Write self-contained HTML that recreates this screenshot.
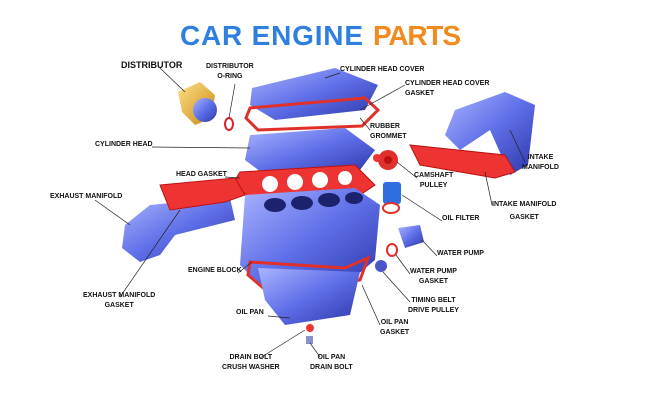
<!DOCTYPE html>
<html><head><meta charset="utf-8"><style>
html,body{margin:0;padding:0;background:#fff;}
.w{position:relative;width:650px;height:400px;overflow:hidden;font-family:"Liberation Sans",sans-serif;}
svg{position:absolute;left:0;top:0;}
.l{position:absolute;font-size:7px;font-weight:bold;color:#111;line-height:10px;white-space:nowrap;}
.c{text-align:center;}
</style></head><body><div class="w">
<svg width="650" height="400" viewBox="0 0 650 400">
<defs>
<linearGradient id="b" x1="0" y1="0" x2="1" y2="1"><stop offset="0" stop-color="#aab4ff"/><stop offset="0.5" stop-color="#5f6fe8"/><stop offset="1" stop-color="#2c36a8"/></linearGradient>
<linearGradient id="o" x1="0" y1="0" x2="1" y2="1"><stop offset="0" stop-color="#ffe08a"/><stop offset="1" stop-color="#c88a10"/></linearGradient>
</defs>
<text x="180" y="45" font-family="Liberation Sans" font-weight="bold" font-size="28" fill="#2e7fe0" textLength="183">CAR ENGINE</text>
<text x="373" y="45" font-family="Liberation Sans" font-weight="bold" font-size="28" fill="#f28a1e" textLength="88">PARTS</text>
<path d="M178 92 L200 82 L215 95 L212 118 L195 125 L182 112 Z" fill="url(#o)"/>
<circle cx="205" cy="110" r="12" fill="url(#b)"/>
<ellipse cx="229" cy="124" rx="4" ry="6" fill="none" stroke="#e0202a" stroke-width="2"/>
<path d="M252 88 L335 68 L378 85 L365 110 L275 120 L250 105 Z" fill="url(#b)"/>
<path d="M250 108 L365 98 L378 110 L362 126 L258 130 L246 118 Z" fill="none" stroke="#e0302a" stroke-width="3"/>
<path d="M250 135 L345 128 L375 150 L360 170 L265 175 L245 160 Z" fill="url(#b)"/>
<path d="M240 172 L355 165 L375 185 L360 195 L255 200 L232 185 Z" fill="#e33" stroke="#b11" stroke-width="1"/>
<g fill="#fff"><circle cx="270" cy="184" r="8"/><circle cx="295" cy="182" r="8"/><circle cx="320" cy="180" r="8"/><circle cx="345" cy="178" r="7"/></g>
<path d="M245 195 L355 188 L380 205 L375 260 L345 285 L265 290 L240 265 Z" fill="url(#b)"/>
<g fill="#1d226e"><ellipse cx="275" cy="205" rx="11" ry="7"/><ellipse cx="302" cy="203" rx="11" ry="7"/><ellipse cx="329" cy="200" rx="11" ry="7"/><ellipse cx="354" cy="198" rx="9" ry="6"/></g>
<path d="M250 262 L345 268 L368 258 L360 280 L268 292 L248 275 Z" fill="none" stroke="#e0302a" stroke-width="3"/>
<path d="M258 268 L360 272 L350 315 L285 325 L265 300 Z" fill="url(#b)"/>
<circle cx="310" cy="328" r="4" fill="#e33"/><rect x="306" y="336" width="7" height="8" fill="#8a93c8"/>
<circle cx="388" cy="160" r="10" fill="#e0302a"/><circle cx="388" cy="160" r="4" fill="#b11"/>
<circle cx="377" cy="158" r="4" fill="#e33"/>
<rect x="383" y="182" width="18" height="22" rx="3" fill="#2e6ee0"/>
<ellipse cx="391" cy="208" rx="8" ry="5" fill="none" stroke="#e0302a" stroke-width="2"/>
<path d="M398 228 L420 225 L424 242 L405 248 Z" fill="url(#b)"/>
<ellipse cx="392" cy="250" rx="5" ry="6" fill="none" stroke="#e0302a" stroke-width="2"/>
<circle cx="381" cy="266" r="6" fill="#4a55c8"/>
<path d="M455 110 L505 92 L535 105 L528 165 L510 175 L490 130 L460 150 L445 135 Z" fill="url(#b)"/>
<path d="M410 145 L505 155 L515 172 L495 178 L420 165 Z" fill="#e33" stroke="#b11"/>
<path d="M125 225 L150 205 L200 200 L230 198 L235 220 L175 235 L160 255 L140 262 L122 248 Z" fill="url(#b)"/>
<path d="M160 185 L235 178 L245 195 L225 202 L170 210 Z" fill="#e33" stroke="#b11"/>
<g stroke="#222" stroke-width="0.7" fill="none">
<line x1="160" y1="68" x2="185" y2="92"/><line x1="235" y1="84" x2="229" y2="118"/>
<line x1="340" y1="73" x2="325" y2="78"/><line x1="405" y1="85" x2="360" y2="110"/>
<line x1="370" y1="130" x2="360" y2="118"/><line x1="152" y1="147" x2="250" y2="148"/>
<line x1="225" y1="177" x2="240" y2="178"/><line x1="417" y1="178" x2="397" y2="162"/>
<line x1="525" y1="162" x2="510" y2="130"/><line x1="492" y1="205" x2="485" y2="172"/>
<line x1="442" y1="221" x2="402" y2="195"/><line x1="437" y1="256" x2="422" y2="240"/>
<line x1="410" y1="274" x2="396" y2="255"/><line x1="410" y1="302" x2="383" y2="272"/>
<line x1="380" y1="325" x2="362" y2="285"/><line x1="238" y1="273" x2="252" y2="262"/>
<line x1="95" y1="200" x2="130" y2="225"/><line x1="120" y1="297" x2="180" y2="210"/>
<line x1="268" y1="316" x2="290" y2="318"/><line x1="260" y1="358" x2="305" y2="330"/>
<line x1="320" y1="357" x2="310" y2="343"/>
</g>
</svg>
<div class="l" style="left:121px;top:60px;font-size:9px">DISTRIBUTOR</div>
<div class="l c" style="left:206px;top:62px">DISTRIBUTOR<br>O-RING</div>
<div class="l" style="left:340px;top:65px">CYLINDER HEAD COVER</div>
<div class="l" style="left:405px;top:79px">CYLINDER HEAD COVER<br>GASKET</div>
<div class="l" style="left:370px;top:122px">RUBBER<br>GROMMET</div>
<div class="l" style="left:95px;top:140px">CYLINDER HEAD</div>
<div class="l c" style="left:522px;top:153px">INTAKE<br>MANIFOLD</div>
<div class="l" style="left:176px;top:170px">HEAD GASKET</div>
<div class="l c" style="left:414px;top:171px">CAMSHAFT<br>PULLEY</div>
<div class="l" style="left:50px;top:192px">EXHAUST MANIFOLD</div>
<div class="l c" style="left:492px;top:198px;line-height:13px">INTAKE MANIFOLD<br>GASKET</div>
<div class="l" style="left:442px;top:214px">OIL FILTER</div>
<div class="l" style="left:437px;top:249px">WATER PUMP</div>
<div class="l" style="left:188px;top:266px">ENGINE BLOCK</div>
<div class="l c" style="left:410px;top:267px">WATER PUMP<br>GASKET</div>
<div class="l c" style="left:83px;top:291px">EXHAUST MANIFOLD<br>GASKET</div>
<div class="l c" style="left:408px;top:296px">TIMING BELT<br>DRIVE PULLEY</div>
<div class="l" style="left:236px;top:308px">OIL PAN</div>
<div class="l c" style="left:380px;top:318px">OIL PAN<br>GASKET</div>
<div class="l c" style="left:222px;top:353px">DRAIN BOLT<br>CRUSH WASHER</div>
<div class="l c" style="left:310px;top:353px">OIL PAN<br>DRAIN BOLT</div>
</div></body></html>
